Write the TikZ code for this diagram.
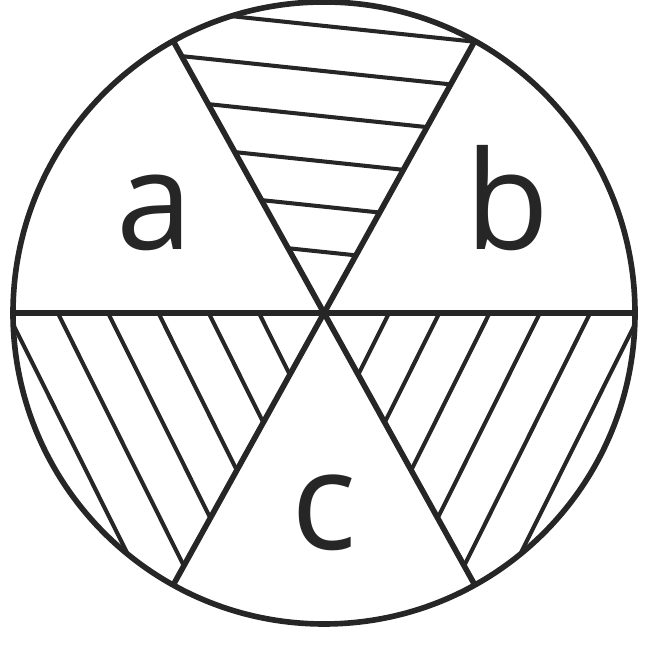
\documentclass[tikz,border=0pt]{standalone}
\usepackage{fontspec}
\newfontfamily\labelfont{Open Sans}
\usepackage{tikz}
\tikzset{
  mainline/.style  = {line width=1.6pt,black!85},
  hatchline/.style = {line width=1.15pt,black!85},
  sectorlbl/.style = {anchor=base,inner sep=0pt,font=\labelfont\fontsize{39}{39}\selectfont,black!85}
}

\begin{document}
\begin{tikzpicture}
  \useasboundingbox (-3.24,-3.34) rectangle (3.23,3.13);
  % hatching, clipped to its sector
  \begin{scope}
    \clip (0,0) -- (61:3.11) arc (61:119:3.11) -- cycle;
    \foreach \y in {0.61,1.063,1.515,1.967,2.419,2.871}
      \draw[hatchline] (0,\y) ++(174:4) -- ++(-6:8);
  \end{scope}
  \begin{scope}
    \clip (0,0) -- (180:3.11) arc (180:241:3.11) -- cycle;
    \foreach \x in {0.65,1.153,1.656,2.159,2.662,3.165}
      \draw[hatchline] (-\x,0) ++(116.5:4) -- ++(-63.5:8);
  \end{scope}
  \begin{scope}
    \clip (0,0) -- (299:3.11) arc (299:360:3.11) -- cycle;
    \foreach \x in {0.65,1.153,1.656,2.159,2.662,3.165}
      \draw[hatchline] (\x,0) ++(63.5:4) -- ++(243.5:8);
  \end{scope}
  % circle and the three diameters
  \draw[mainline] (0,0) circle (3.11);
  \draw[mainline] (180:3.11) -- (0:3.11);
  \draw[mainline] (119:3.11) -- (299:3.11);
  \draw[mainline] (61:3.11) -- (241:3.11);
  % labels
  \node[sectorlbl] (a) at (-1.69,0.63)  {a};
  \node[sectorlbl] (b) at (1.83,0.63)   {b};
  \node[sectorlbl] (c) at (0,-2.37)     {c};
\end{tikzpicture}
\end{document}
